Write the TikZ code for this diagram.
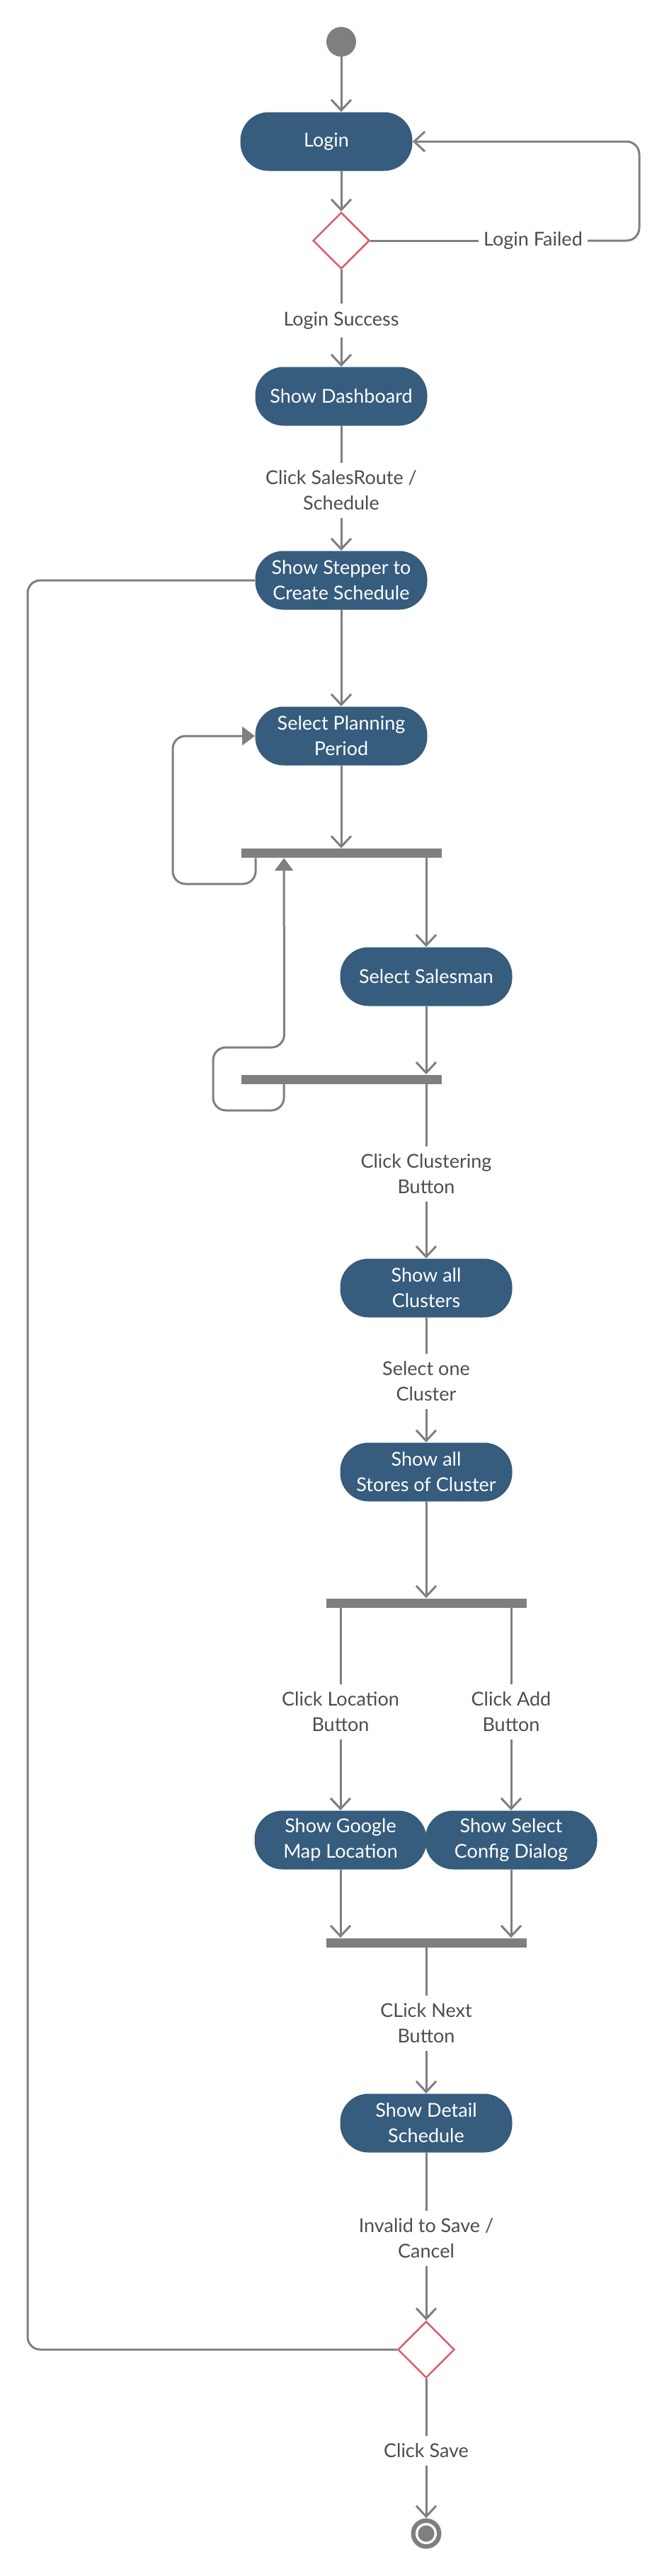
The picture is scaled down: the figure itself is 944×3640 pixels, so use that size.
\documentclass[tikz,border=0pt]{standalone}
\usepackage{fontspec}
\setmainfont{Lato}
\usetikzlibrary{shapes.geometric,arrows.meta}

\definecolor{actblue}{HTML}{365C7E}
\definecolor{flowgray}{HTML}{7F7F7F}
\definecolor{decred}{HTML}{D9606C}
\definecolor{lbltext}{HTML}{4D4D4D}
\newcommand\diagfont{\fontsize{13.5}{18}\selectfont}

\begin{document}
\begin{tikzpicture}[x=0.5pt,y=-0.5pt,
  act/.style={rectangle,rounded corners=20pt,fill=actblue,text=white,minimum width=121.5pt,minimum height=41.5pt,inner sep=0pt,align=center,font=\diagfont},
  lbl/.style={text=lbltext,align=center,inner xsep=3.5pt,inner ysep=5.5pt,font=\diagfont},
  bar/.style={rectangle,fill=flowgray,minimum width=141.5pt,minimum height=6.5pt,inner sep=0pt},
  dec/.style={diamond,draw=decred,line width=1.25pt,fill=white,minimum width=40pt,minimum height=40pt,inner sep=0pt},
  startnode/.style={circle,fill=flowgray,minimum size=21pt,inner sep=0pt},
  endnode/.style={circle,fill=flowgray,minimum size=21.5pt,inner sep=0pt,
    path picture={\fill[white] (path picture bounding box.center) circle (7.5pt);
      \fill[flowgray] (path picture bounding box.center) circle (5.8pt);}},
  flow/.style={draw=flowgray,line width=1.5pt},
  arr/.style={-{Straight Barb[length=7.5pt,width=14pt]}},
  tri/.style={-{Triangle[length=9pt,width=13pt]}}]
\useasboundingbox (0,0) rectangle (944,3640);

\node[startnode] (start) at (482,59) {};
\node[act] (login) at (461,200) {Login};
\node[dec] (dec1) at (482,340) {};
\node[lbl] (failed) at (753,340) {Login Failed};
\node[lbl] (lsucc) at (482,453) {Login Success};
\node[act] (dash) at (482,560) {Show Dashboard};
\node[lbl] (lroute) at (482,693) {Click SalesRoute /\\Schedule};
\node[act] (stepper) at (482,820) {Show Stepper to\\Create Schedule};
\node[act] (period) at (482,1040) {Select Planning\\Period};
\node[bar] (bar1) at (482,1205.5) {};
\node[act] (salesman) at (602,1380) {Select Salesman};
\node[bar] (bar2) at (482,1525) {};
\node[lbl] (lclust) at (602,1659) {Click Clustering\\Button};
\node[act] (clusters) at (602,1820) {Show all\\Clusters};
\node[lbl] (lone) at (602,1952) {Select one\\Cluster};
\node[act] (stores) at (602,2080) {Show all\\Stores of Cluster};
\node[bar] (bar3) at (602,2265) {};
\node[lbl] (lloc) at (481,2419) {Click Location\\Button};
\node[lbl] (ladd) at (722,2419) {Click Add\\Button};
\node[act] (google) at (481,2600) {Show Google\\Map Location};
\node[act] (config) at (722,2600) {Show Select\\Config Dialog};
\node[bar] (bar4) at (602,2745) {};
\node[lbl] (lnext) at (602,2859) {CLick Next\\Button};
\node[act] (detail) at (602,3000) {Show Detail\\Schedule};
\node[lbl] (linvalid) at (602,3163) {Invalid to Save /\\Cancel};
\node[dec] (dec2) at (602,3320) {};
\node[lbl] (lsave) at (602,3463) {Click Save};
\node[endnode] (stop) at (602,3580) {};

\coordinate (failR) at (903,200);
\coordinate (p1) at (244,1249);
\coordinate (q1) at (301,1569);
\coordinate (q2) at (401.5,1480);
\coordinate (back) at (39,820);

\draw[flow,arr] (start) -- (start |- login.north);
\draw[flow,arr] (dec1 |- login.south) -- (dec1);
\draw[flow] (dec1) -- (failed);
\draw[flow,arr,rounded corners=9pt] (failed) -| (failR) -- (login.east);
\draw[flow] (dec1) -- (lsucc);
\draw[flow,arr] (lsucc) -- (dash);
\draw[flow] (dash) -- (lroute);
\draw[flow,arr] (lroute) -- (stepper);
\draw[flow,arr] (stepper) -- (period);
\draw[flow,arr] (period) -- (period |- bar1.north);
\draw[flow,tri,rounded corners=9pt] ([xshift=10.5pt]bar1.south west) |- (p1) |- (period.west);
\draw[flow,arr] (salesman |- bar1.south) -- (salesman);
\draw[flow,arr] (salesman) -- (salesman |- bar2.north);
\draw[flow,tri,rounded corners=9pt] ([xshift=30.5pt]bar2.south west) |- (q1) |- (q2) -- ([xshift=30.5pt]bar1.south west);
\draw[flow] (lclust |- bar2.south) -- (lclust);
\draw[flow,arr] (lclust) -- (clusters);
\draw[flow] (clusters) -- (lone);
\draw[flow,arr] (lone) -- (stores);
\draw[flow,arr] (stores) -- (stores |- bar3.north);
\draw[flow] (lloc |- bar3.south) -- (lloc);
\draw[flow] (ladd |- bar3.south) -- (ladd);
\draw[flow,arr] (lloc) -- (google);
\draw[flow,arr] (ladd) -- (config);
\draw[flow,arr] (google) -- (google |- bar4.north);
\draw[flow,arr] (config) -- (config |- bar4.north);
\draw[flow] (lnext |- bar4.south) -- (lnext);
\draw[flow,arr] (lnext) -- (detail);
\draw[flow] (detail) -- (linvalid);
\draw[flow,arr] (linvalid) -- (dec2);
\draw[flow] (dec2) -- (lsave);
\draw[flow,arr] (lsave) -- (stop);
\draw[flow,rounded corners=9pt] (dec2) -| (back) -- (stepper.west);
\end{tikzpicture}
\end{document}
